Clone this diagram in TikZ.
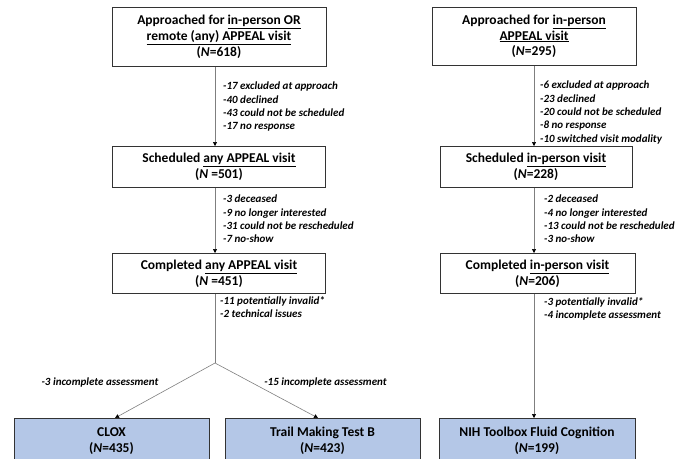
\documentclass[tikz,border=0pt]{standalone}
\usepackage{fontspec}
\setmainfont{Carlito}
\usetikzlibrary{arrows.meta}
\definecolor{boxblue}{HTML}{B4C7E7}
\definecolor{linegray}{HTML}{7F7F7F}

\begin{document}
\begin{tikzpicture}[x=1pt,y=-1pt,%
  stage/.style={draw=black!80,line width=0.9pt,fill=white,align=center,%
  inner sep=0pt,anchor=north,font=\fontsize{13.5}{15.8}\selectfont\bfseries},%
  final/.style={stage,fill=boxblue},%
  drop/.style={anchor=north west,align=left,inner sep=0pt,%
  font=\fontsize{11}{13.3}\selectfont\bfseries\itshape},%
  arr/.style={draw=linegray,line width=0.6pt,%
  -{Triangle[length=4pt,width=4pt,color=black]}}]

  \useasboundingbox (0,0) rectangle (687,458);
  \clip (0,0) rectangle (687,458);

  % any APPEAL visit
  \node [stage,minimum width=214pt,minimum height=59pt] (anyappr) at (219,7)
    {Approached for \underline{in-person OR}\\\underline{remote (any) APPEAL visit}\\(\textit{N}=618)};
  \node [stage,minimum width=213pt,minimum height=41pt] (anysched) at (219,146)
    {Scheduled \underline{any APPEAL visit}\\(\textit{N} =501)};
  \node [stage,minimum width=213pt,minimum height=40pt] (anydone) at (219,253)
    {Completed \underline{any APPEAL visit}\\(\textit{N} =451)};
  \node [final,minimum width=195pt,minimum height=45pt] (clox) at (111.5,418)
    {CLOX\\(\textit{N}=435)};
  \node [final,minimum width=195pt,minimum height=45pt] (trail) at (322.5,418)
    {Trail Making Test B\\(\textit{N}=423)};
  \coordinate (split) at (215,363);

  \draw [arr] ([xshift=-4pt]anyappr.south) -- ([xshift=-4pt]anysched.north);
  \draw [arr] ([xshift=-4pt]anysched.south) -- ([xshift=-4pt]anydone.north);
  \draw [draw=linegray,line width=0.6pt] ([xshift=-4pt]anydone.south) -- (split);
  \draw [arr] (split) -- ([xshift=3.5pt]clox.north);
  \draw [arr] (split) -- ([xshift=-4.5pt]trail.north);

  \node [drop] (anydrop1) at (223,82) {-17 excluded at approach\\-40 declined\\%
    -43 could not be scheduled\\-17 no response};
  \node [drop] (anydrop2) at (223,195) {-3 deceased\\-9 no longer interested\\%
    -31 could not be rescheduled\\-7 no-show};
  \node [drop] (anydrop3) at (220,296) {-11 potentially invalid*\\-2 technical issues};
  \node [drop,anchor=center] (cloxdrop) at (100,382) {-3 incomplete assessment};
  \node [drop,anchor=center] (traildrop) at (325.5,382) {-15 incomplete assessment};

  % in-person visit
  \node [stage,minimum width=204pt,minimum height=58pt] (ipappr) at (534,7)
    {Approached for \underline{in-person}\\\underline{APPEAL visit}\\(\textit{N}=295)};
  \node [stage,minimum width=192pt,minimum height=41pt] (ipsched) at (536,146)
    {Scheduled \underline{in-person visit}\\(\textit{N}=228)};
  \node [stage,minimum width=195pt,minimum height=40pt] (ipdone) at (537.5,253)
    {Completed \underline{in-person visit}\\(\textit{N}=206)};
  \node [final,minimum width=196pt,minimum height=45pt] (nih) at (537,418)
    {NIH Toolbox Fluid Cognition\\(\textit{N}=199)};

  \draw [arr] (ipappr.south) -- (ipappr.south |- ipsched.north);
  \draw [arr] (ipappr.south |- ipsched.south) -- (ipappr.south |- ipdone.north);
  \draw [arr] (ipappr.south |- ipdone.south) -- (ipappr.south |- nih.north);

  \node [drop] (ipdrop1) at (540,81) {-6 excluded at approach\\-23 declined\\%
    -20 could not be scheduled\\-8 no response\\-10 switched visit modality};
  \node [drop] (ipdrop2) at (544,195) {-2 deceased\\-4 no longer interested\\%
    -13 could not be rescheduled\\-3 no-show};
  \node [drop] (ipdrop3) at (544,297) {-3 potentially invalid*\\-4 incomplete assessment};
\end{tikzpicture}
\end{document}
